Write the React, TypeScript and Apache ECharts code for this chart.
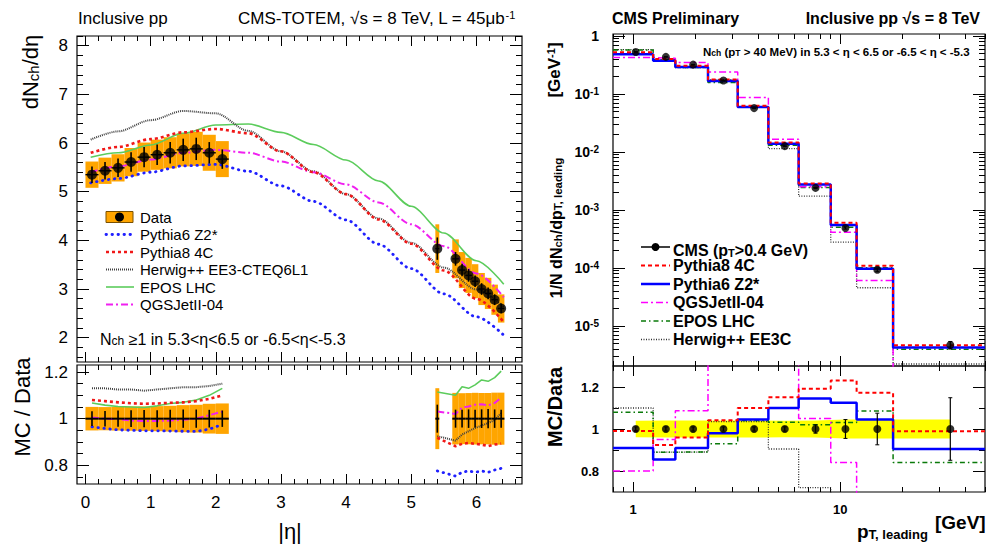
import React, { useEffect, useRef } from 'react';
import * as echarts from 'echarts';

const FONT = '"Liberation Sans", Arial, Helvetica, sans-serif';

// ---- dN_ch/d|eta| : central (|eta| < 2.2) and forward (5.3 < |eta| < 6.5) points ----
const etaPoints = [0.1, 0.3, 0.5, 0.7, 0.9, 1.1, 1.3, 1.5, 1.7, 1.9, 2.1, 5.4, 5.68, 5.78, 5.88, 5.98, 6.08, 6.18, 6.28, 6.38];
const etaBinLow = [0.0, 0.2, 0.4, 0.6, 0.8, 1.0, 1.2, 1.4, 1.6, 1.8, 2.0, 5.37, 5.63, 5.73, 5.83, 5.93, 6.03, 6.13, 6.23, 6.33];
const etaBinHigh = [0.2, 0.4, 0.6, 0.8, 1.0, 1.2, 1.4, 1.6, 1.8, 2.0, 2.2, 5.43, 5.73, 5.83, 5.93, 6.03, 6.13, 6.23, 6.33, 6.43];
const dNdEta = [5.35, 5.43, 5.49, 5.61, 5.71, 5.76, 5.8, 5.86, 5.88, 5.8, 5.67, 3.83, 3.62, 3.39, 3.28, 3.16, 3.0, 2.91, 2.78, 2.6];
const dNdEtaStat = [0.17, 0.18, 0.19, 0.2, 0.21, 0.21, 0.22, 0.23, 0.23, 0.22, 0.2, 0.23, 0.14, 0.13, 0.13, 0.12, 0.12, 0.12, 0.11, 0.1];
const dNdEtaSyst = [0.27, 0.27, 0.28, 0.29, 0.3, 0.31, 0.32, 0.34, 0.35, 0.37, 0.37, 0.5, 0.4, 0.37, 0.36, 0.35, 0.33, 0.32, 0.31, 0.29];
const N_CENTRAL = 11;

// generator predictions for dN_ch/d|eta|
const etaModel = [0.08, 0.5, 1.0, 1.5, 2.0, 2.5, 3.0, 3.5, 4.0, 4.5, 5.0, 5.5, 6.0, 6.42];
const etaPythia6 = [5.18, 5.27, 5.4, 5.53, 5.56, 5.42, 5.12, 4.8, 4.42, 3.92, 3.42, 2.9, 2.43, 2.05];
const etaPythia8 = [5.8, 5.92, 6.08, 6.22, 6.29, 6.2, 5.83, 5.4, 4.95, 4.43, 3.93, 3.38, 2.8, 2.32];
const etaHerwig = [6.07, 6.24, 6.47, 6.66, 6.61, 6.25, 5.83, 5.42, 4.95, 4.45, 3.95, 3.44, 2.99, 2.63];
const etaEpos = [5.71, 5.8, 5.96, 6.2, 6.37, 6.39, 6.22, 5.97, 5.65, 5.22, 4.7, 4.15, 3.58, 3.1];
const etaQgsjet = [5.4, 5.52, 5.66, 5.8, 5.86, 5.8, 5.62, 5.4, 5.15, 4.78, 4.33, 3.88, 3.32, 2.83];

// MC / Data at the measured |eta| points
const ratioPythia6 = [0.965, 0.958, 0.952, 0.95, 0.948, 0.948, 0.947, 0.946, 0.945, 0.955, 0.975, 0.776, 0.754, 0.77, 0.776, 0.77, 0.776, 0.77, 0.78, 0.787];
const ratioPythia8 = [1.08, 1.075, 1.07, 1.066, 1.064, 1.065, 1.068, 1.07, 1.075, 1.085, 1.1, 0.918, 0.882, 0.892, 0.896, 0.892, 0.889, 0.882, 0.889, 0.893];
const ratioHerwig = [1.13, 1.13, 1.125, 1.125, 1.12, 1.125, 1.13, 1.135, 1.135, 1.14, 1.15, 0.925, 0.906, 0.932, 0.946, 0.96, 0.97, 0.982, 0.993, 1.024];
const ratioEpos = [1.067, 1.058, 1.052, 1.05, 1.048, 1.055, 1.065, 1.07, 1.08, 1.1, 1.13, 1.114, 1.1, 1.137, 1.13, 1.145, 1.166, 1.16, 1.176, 1.204];
const ratioQgsjet = [1.005, 1.0, 0.998, 0.992, 0.99, 0.99, 0.992, 0.995, 1.0, 1.015, 1.03, 1.031, 1.02, 1.048, 1.052, 1.06, 1.062, 1.057, 1.067, 1.09];

// ---- leading-pT spectrum ----
const ptEdges = [0.8, 1.25, 1.6, 2.3, 3.2, 4.5, 6.3, 9, 12, 18, 50];
const ptPoints = [1.03, 1.44, 1.95, 2.73, 3.84, 5.4, 7.6, 10.6, 15.1, 34];
const ptData = [0.53, 0.435, 0.32, 0.17, 0.057, 0.0126, 0.0024, 4.9e-4, 9.3e-5, 4.7e-6];
const ptStat = [0.0053, 0.0044, 0.0032, 0.0017, 0.00057, 0.00013, 0.000048, 0.000022, 0.000007, 0.0000007];
const ptSyst = [0.021, 0.0174, 0.0128, 0.0068, 0.00228, 0.0005, 0.000096, 0.000022, 0.0000042, 0.00000021];
const ptPythia8 = [0.525, 0.402, 0.307, 0.177, 0.0627, 0.0145, 0.00286, 6.03e-4, 1.09e-4, 4.65e-6];
const ptPythia6 = [0.482, 0.372, 0.291, 0.1666, 0.0596, 0.01386, 0.00275, 5.51e-4, 9.72e-5, 4.25e-6];
const ptQgsjet = [0.424, 0.413, 0.348, 0.238, 0.0872, 0.0166, 0.00252, 4.12e-4, 6.05e-5, 1.41e-6];
const ptEpos = [0.572, 0.387, 0.285, 0.158, 0.0593, 0.013, 0.00245, 5.05e-4, 1.01e-4, 3.95e-6];
const ptHerwig = [0.583, 0.387, 0.285, 0.176, 0.059, 0.0114, 0.00173, 2.79e-4, 4.56e-5, 2.21e-6];

// ---------- styles ----------
const L = {
  p6: { color: '#2020ff', width: 2.8, type: [0.5, 5.5], cap: 'round' },
  p8: { color: '#f01818', width: 2.6, type: [3, 3] },
  hw: { color: '#404040', width: 2, type: [1, 1] },
  ep: { color: '#5ccc5c', width: 1.6, type: 'solid' },
  qg: { color: '#f020f0', width: 2, type: [7, 3, 2, 3] },
};
const R = {
  p8: { color: '#ff0000', width: 2, type: [4, 3] },
  p6: { color: '#0000ff', width: 2.5, type: 'solid' },
  qg: { color: '#ff00ff', width: 1.5, type: [7, 3, 2, 3] },
  ep: { color: '#0a7a0a', width: 1.5, type: [5, 3, 1.5, 3] },
  hw: { color: '#303030', width: 1.3, type: [1, 1.5] },
};
const ORANGE = '#ffa500';

function steps(a: number, b: number, d: number) {
  const out: number[] = [];
  for (let v = a; v <= b + 1e-9; v += d) out.push(Math.round(v * 10000) / 10000);
  return out;
}
const notOn = (grid: number[]) => (v: number) => !grid.some((g) => Math.abs(g - v) < 1e-6);

function frameAxes(o: any) {
  const sides = o.dim === 'x' ? ['bottom', 'top'] : ['left', 'right'];
  const make = (position: string, ticks: number[], len: number, label?: any) => ({
    gridIndex: o.grid,
    type: o.type,
    min: o.min,
    max: o.max,
    position,
    ...(o.type === 'log' ? { logBase: 10 } : {}),
    axisLine: { show: false, onZero: false },
    splitLine: { show: false },
    axisTick: { show: true, inside: true, length: len, customValues: ticks, lineStyle: { color: '#000', width: 1 } },
    axisLabel: label ? { ...label, customValues: o.majors } : { show: false },
  });
  return [
    make(sides[0], o.majors, o.majorLen, o.label),
    make(sides[0], o.minors, o.minorLen),
    make(sides[1], o.majors, o.majorLen),
    make(sides[1], o.minors, o.minorLen),
  ];
}

function boxSeries(ax: number, data: number[][], color: string) {
  return {
    type: 'custom', xAxisIndex: ax, yAxisIndex: ax, data, clip: true, z: 1, silent: true,
    renderItem: (_p: any, api: any) => {
      const a = api.coord([api.value(0), api.value(3)]);
      const b = api.coord([api.value(1), api.value(2)]);
      return { type: 'rect', shape: { x: a[0], y: a[1], width: b[0] - a[0], height: b[1] - a[1] }, style: { fill: color } };
    },
  };
}

// closed band between a lower and an upper edge, drawn once from all points
function bandSeries(ax: number, xs: number[], lower: number[], upper: number[], color: string) {
  return {
    type: 'custom', xAxisIndex: ax, yAxisIndex: ax, clip: true, z: 1, silent: true,
    data: xs.map((x, i) => [x, lower[i], upper[i]]),
    renderItem: (params: any, api: any) => {
      if (params.dataIndex !== 0) return null;
      const top = xs.map((x, i) => api.coord([x, upper[i]]));
      const bot = xs.map((x, i) => api.coord([x, lower[i]])).reverse();
      return { type: 'polygon', shape: { points: [...top, ...bot] }, style: { fill: color } };
    },
  };
}

function errorSeries(ax: number, data: number[][], width: number, hWidth: number, cap: number) {
  return {
    type: 'custom', xAxisIndex: ax, yAxisIndex: ax, data, clip: true, z: 5, silent: true,
    renderItem: (_p: any, api: any) => {
      const x = api.value(0), y = api.value(1), e = api.value(2);
      const t = api.coord([x, y + e]);
      const b = api.coord([x, y - e]);
      const ch: any[] = [{ type: 'line', shape: { x1: t[0], y1: t[1], x2: b[0], y2: b[1] }, style: { stroke: '#000', lineWidth: width } }];
      if (cap > 0) {
        ch.push({ type: 'line', shape: { x1: t[0] - cap, y1: t[1], x2: t[0] + cap, y2: t[1] }, style: { stroke: '#000', lineWidth: 1 } });
        ch.push({ type: 'line', shape: { x1: b[0] - cap, y1: b[1], x2: b[0] + cap, y2: b[1] }, style: { stroke: '#000', lineWidth: 1 } });
      }
      const lo = api.value(3), hi = api.value(4);
      if (!isNaN(lo) && !isNaN(hi)) {
        const l = api.coord([lo, y]);
        const h = api.coord([hi, y]);
        ch.push({ type: 'line', shape: { x1: l[0], y1: l[1], x2: h[0], y2: h[1] }, style: { stroke: '#000', lineWidth: hWidth } });
      }
      return { type: 'group', children: ch };
    },
  };
}

function curve(ax: number, name: string, data: any[], ls: any, smooth: boolean, z = 3) {
  return {
    type: 'line', name, xAxisIndex: ax, yAxisIndex: ax, data, smooth: smooth ? 0.3 : false,
    smoothMonotone: 'x', symbol: 'none', showSymbol: false, silent: true, z, clip: true,
    lineStyle: { color: ls.color, width: ls.width, type: ls.type, cap: ls.cap || 'butt' },
  };
}

const stepData = (vals: number[]) => ptEdges.map((e, i) => [e, vals[Math.min(i, vals.length - 1)]]);
function stepLine(ax: number, name: string, vals: number[], ls: any) {
  return { ...curve(ax, name, stepData(vals), ls, false), step: 'end' };
}

const etaRatioData = (r: number[]) => [
  ...etaPoints.slice(0, N_CENTRAL).map((e, i) => [e, r[i]]),
  [3.7, '-'],
  ...etaPoints.slice(N_CENTRAL).map((e, i) => [e, r[i + N_CENTRAL]]),
];

function txt(x: number, y: number, text: string, style: any, extra: any = {}) {
  return { type: 'text', x, y, silent: true, ...extra, style: { text, fontFamily: FONT, fill: '#000', ...style } };
}
function seg(x1: number, x2: number, y: number, ls: any) {
  return {
    type: 'line', silent: true, shape: { x1, y1: y, x2, y2: y },
    style: { stroke: ls.color, lineWidth: ls.width, lineDash: Array.isArray(ls.type) ? ls.type : null, lineCap: ls.cap || 'butt' },
  };
}

function subRich(size: number, sub: number, drop: number, bold = false) {
  const w = bold ? 'bold' : 'normal';
  return {
    a: { fontSize: size, fontFamily: FONT, fontWeight: w, fill: '#000', verticalAlign: 'top', lineHeight: size },
    s: { fontSize: sub, fontFamily: FONT, fontWeight: w, fill: '#000', verticalAlign: 'bottom', lineHeight: sub, padding: [drop, 0, 0, 0] },
  };
}
function supRich(size: number, sup: number, lift: number, bold = false) {
  const w = bold ? 'bold' : 'normal';
  return {
    a: { fontSize: size, fontFamily: FONT, fontWeight: w, fill: '#000', verticalAlign: 'bottom', lineHeight: size, padding: [lift, 0, 0, 0] },
    p: { fontSize: sup, fontFamily: FONT, fontWeight: w, fill: '#000', verticalAlign: 'top', lineHeight: sup },
  };
}

function buildOption() {
  // grids: 0 left main, 1 left ratio, 2 right main, 3 right ratio
  const grid = [
    { left: 77, top: 36, width: 445, height: 326 },
    { left: 77, top: 365, width: 445, height: 119 },
    { left: 613, top: 34, width: 372, height: 332 },
    { left: 613, top: 366, width: 372, height: 126 },
  ].map((g) => ({ ...g, show: true, borderColor: '#000', borderWidth: 1.2, backgroundColor: 'transparent' }));

  const etaMajors = [0, 1, 2, 3, 4, 5, 6];
  const etaMinors = steps(0, 6.6, 0.2).filter(notOn(etaMajors));
  const leftLabel = { show: true, fontSize: 17, fontFamily: FONT, color: '#000' };
  const rightLabel = { show: true, fontSize: 13, fontWeight: 'bold', fontFamily: FONT, color: '#000' };

  const ptMajors = [1, 10];
  const ptMinors = [0.8, 0.9, 2, 3, 4, 5, 6, 7, 8, 9, 20, 30, 40, 50];
  const decades = [1e-5, 1e-4, 1e-3, 1e-2, 1e-1, 1];
  const decadeMinors: number[] = [];
  [1e-6, 1e-5, 1e-4, 1e-3, 1e-2, 1e-1].forEach((d) => {
    for (let k = 2; k <= 9; k++) {
      const v = k * d;
      if (v >= 2.1e-6 && v <= 1.08) decadeMinors.push(v);
    }
  });

  const xAxis = [
    ...frameAxes({ grid: 0, dim: 'x', type: 'value', min: -0.13, max: 6.7, majors: etaMajors, minors: etaMinors, majorLen: 10, minorLen: 5 }),
    ...frameAxes({ grid: 1, dim: 'x', type: 'value', min: -0.13, max: 6.7, majors: etaMajors, minors: etaMinors, majorLen: 10, minorLen: 5, label: { ...leftLabel, margin: 10 } }),
    ...frameAxes({ grid: 2, dim: 'x', type: 'log', min: 0.8, max: 50, majors: ptMajors, minors: ptMinors, majorLen: 10, minorLen: 5 }),
    ...frameAxes({ grid: 3, dim: 'x', type: 'log', min: 0.8, max: 50, majors: ptMajors, minors: ptMinors, majorLen: 10, minorLen: 5, label: { ...rightLabel, margin: 11 } }),
  ];
  const yAxis = [
    ...frameAxes({ grid: 0, dim: 'y', type: 'value', min: 1.5, max: 8.2, majors: [2, 3, 4, 5, 6, 7, 8], minors: steps(1.6, 8.2, 0.2).filter(notOn([2, 3, 4, 5, 6, 7, 8])), majorLen: 12, minorLen: 6, label: { ...leftLabel, margin: 9 } }),
    ...frameAxes({ grid: 1, dim: 'y', type: 'value', min: 0.72, max: 1.23, majors: [0.8, 1, 1.2], minors: [0.75, 0.85, 0.9, 0.95, 1.05, 1.1, 1.15], majorLen: 12, minorLen: 6, label: { ...leftLabel, margin: 9 } }),
    ...frameAxes({
      grid: 2, dim: 'y', type: 'log', min: 2.04e-6, max: 1.08, majors: decades, minors: decadeMinors, majorLen: 12, minorLen: 6,
      label: {
        show: true, margin: 14, color: '#000',
        formatter: (v: number) => {
          const p = Math.round(Math.log10(v));
          return p === 0 ? '{b|1}' : `{b|10}{s|${p}}`;
        },
        rich: {
          b: { fontSize: 14, fontWeight: 'bold', fontFamily: FONT, color: '#000', verticalAlign: 'bottom', lineHeight: 14, padding: [5, 0, 0, 0] },
          s: { fontSize: 10, fontWeight: 'bold', fontFamily: FONT, color: '#000', verticalAlign: 'top', lineHeight: 10 },
        },
      },
    }),
    ...frameAxes({ grid: 3, dim: 'y', type: 'value', min: 0.7, max: 1.3, majors: [0.8, 1, 1.2], minors: [0.9, 1.1], majorLen: 12, minorLen: 6, label: { ...rightLabel, margin: 14 } }),
  ];

  const AX0 = 0, AX1 = 4, AX2 = 8, AX3 = 12;
  const idx = etaPoints.map((_, i) => i);

  const series: any[] = [
    // left main
    boxSeries(AX0, idx.map((i) => [etaBinLow[i], etaBinHigh[i], dNdEta[i] - dNdEtaSyst[i], dNdEta[i] + dNdEtaSyst[i]]), ORANGE),
    curve(AX0, 'EPOS LHC', etaModel.map((e, i) => [e, etaEpos[i]]), L.ep, true),
    curve(AX0, 'Herwig++ EE3-CTEQ6L1', etaModel.map((e, i) => [e, etaHerwig[i]]), L.hw, true),
    curve(AX0, 'QGSJetII-04', etaModel.map((e, i) => [e, etaQgsjet[i]]), L.qg, true),
    curve(AX0, 'Pythia8 4C', etaModel.map((e, i) => [e, etaPythia8[i]]), L.p8, true),
    curve(AX0, 'Pythia6 Z2*', etaModel.map((e, i) => [e, etaPythia6[i]]), L.p6, true),
    errorSeries(AX0, idx.map((i) => [etaPoints[i], dNdEta[i], dNdEtaStat[i], etaBinLow[i], etaBinHigh[i]]), 1.6, 1.4, 0),
    {
      type: 'scatter', name: 'Data', xAxisIndex: AX0, yAxisIndex: AX0, symbol: 'circle', symbolSize: 10, z: 6, silent: true,
      itemStyle: { color: '#000' }, data: idx.map((i) => [etaPoints[i], dNdEta[i]]),
    },
    // left ratio
    boxSeries(AX1, idx.map((i) => [etaBinLow[i], etaBinHigh[i], 1 - dNdEtaSyst[i] / dNdEta[i], 1 + dNdEtaSyst[i] / dNdEta[i]]), ORANGE),
    errorSeries(AX1, idx.map((i) => [etaPoints[i], 1, dNdEtaStat[i] / dNdEta[i], etaBinLow[i], etaBinHigh[i]]), 1.6, 2, 0),
    curve(AX1, 'EPOS LHC', etaRatioData(ratioEpos), L.ep, false),
    curve(AX1, 'Herwig++ EE3-CTEQ6L1', etaRatioData(ratioHerwig), L.hw, false),
    curve(AX1, 'QGSJetII-04', etaRatioData(ratioQgsjet), L.qg, false),
    curve(AX1, 'Pythia8 4C', etaRatioData(ratioPythia8), L.p8, false),
    curve(AX1, 'Pythia6 Z2*', etaRatioData(ratioPythia6), L.p6, false),
    // right main
    stepLine(AX2, 'Herwig++ EE3C', ptHerwig, R.hw),
    stepLine(AX2, 'EPOS LHC', ptEpos, R.ep),
    stepLine(AX2, 'QGSJetII-04', ptQgsjet, R.qg),
    stepLine(AX2, 'Pythia6 Z2*', ptPythia6, R.p6),
    stepLine(AX2, 'Pythia8 4C', ptPythia8, R.p8),
    errorSeries(AX2, ptPoints.map((p, i) => [p, ptData[i], ptStat[i]]), 1.2, 0, 2),
    {
      type: 'scatter', name: 'CMS', xAxisIndex: AX2, yAxisIndex: AX2, symbol: 'circle', symbolSize: 8, z: 6, silent: true,
      itemStyle: { color: '#000' }, data: ptPoints.map((p, i) => [p, ptData[i]]),
    },
    // right ratio: systematic band around 1
    bandSeries(AX3, ptPoints, ptSyst.map((s, i) => 1 - s / ptData[i]), ptSyst.map((s, i) => 1 + s / ptData[i]), '#ffff00'),
    stepLine(AX3, 'Herwig++ EE3C', ptHerwig.map((v, i) => v / ptData[i]), R.hw),
    stepLine(AX3, 'EPOS LHC', ptEpos.map((v, i) => v / ptData[i]), R.ep),
    stepLine(AX3, 'QGSJetII-04', ptQgsjet.map((v, i) => v / ptData[i]), R.qg),
    stepLine(AX3, 'Pythia6 Z2*', ptPythia6.map((v, i) => v / ptData[i]), R.p6),
    stepLine(AX3, 'Pythia8 4C', ptPythia8.map((v, i) => v / ptData[i]), R.p8),
    errorSeries(AX3, ptPoints.map((p, i) => [p, 1, ptStat[i] / ptData[i]]), 1.2, 0, 2),
    {
      type: 'scatter', xAxisIndex: AX3, yAxisIndex: AX3, symbol: 'circle', symbolSize: 8, z: 6, silent: true,
      itemStyle: { color: '#000' }, data: ptPoints.map((p) => [p, 1]),
    },
  ];

  const leftRows = [217, 234.5, 252, 269.5, 287, 304.5];
  const rightRows = [247, 265.5, 284, 302.5, 321, 339.5];
  const lg = { fontSize: 15, verticalAlign: 'middle', align: 'left' };
  const rg = { fontSize: 16, fontWeight: 'bold', verticalAlign: 'middle', align: 'left' };

  const graphic: any[] = [
    // left panel texts
    txt(78, 18, 'Inclusive pp', { fontSize: 17, verticalAlign: 'middle' }),
    txt(238, 18, '{a|CMS-TOTEM, √s = 8 TeV, L = 45μb}{p|-1}', { rich: supRich(17, 11, 6), verticalAlign: 'middle' }),
    txt(30, 72, '{a|dN}{s|ch}{a|/dη}', { rich: subRich(22, 15, 12), align: 'center', verticalAlign: 'middle' }, { rotation: Math.PI / 2 }),
    txt(22, 407, 'MC / Data', { fontSize: 22, align: 'center', verticalAlign: 'middle' }, { rotation: Math.PI / 2 }),
    txt(290, 531, '|η|', { fontSize: 22, align: 'center', verticalAlign: 'middle' }),
    txt(100, 339, '{a|N}{s|ch}{a| ≥1 in 5.3<η<6.5 or -6.5<η<-5.3}', { rich: subRich(16, 12, 9), verticalAlign: 'middle' }),
    // left legend
    { type: 'rect', silent: true, shape: { x: 106, y: 211.5, width: 27, height: 11 }, style: { fill: ORANGE, stroke: '#7a5000', lineWidth: 1 } },
    { type: 'circle', silent: true, shape: { cx: 119.5, cy: 217, r: 4.5 }, style: { fill: '#000' } },
    txt(140, leftRows[0], 'Data', lg),
    seg(106, 134, leftRows[1], L.p6),
    txt(140, leftRows[1], 'Pythia6 Z2*', lg),
    seg(106, 134, leftRows[2], L.p8),
    txt(140, leftRows[2], 'Pythia8 4C', lg),
    seg(106, 134, leftRows[3], L.hw),
    txt(140, leftRows[3], 'Herwig++ EE3-CTEQ6L1', lg),
    seg(106, 134, leftRows[4], L.ep),
    txt(140, leftRows[4], 'EPOS LHC', lg),
    seg(106, 134, leftRows[5], L.qg),
    txt(140, leftRows[5], 'QGSJetII-04', lg),

    // right panel texts
    txt(612, 18, 'CMS Preliminary', { fontSize: 16, fontWeight: 'bold', verticalAlign: 'middle' }),
    txt(980, 18, 'Inclusive pp √s = 8 TeV', { fontSize: 16, fontWeight: 'bold', verticalAlign: 'middle', align: 'right' }),
    txt(703, 52, '{a|N}{s|ch}{a| (p}{s|T}{a| > 40 MeV) in 5.3 < η < 6.5 or -6.5 < η < -5.3}', { rich: subRich(11.5, 8.5, 5, true), verticalAlign: 'middle' }),
    txt(556, 228, '{a|1/N dN}{s|ch}{a|/dp}{s|T, leading}', { rich: subRich(16, 11.5, 9, true), align: 'center', verticalAlign: 'middle' }, { rotation: Math.PI / 2 }),
    txt(554, 70, '{a|[GeV}{p|-1}{a|]}', { rich: supRich(17, 11, 6, true), align: 'center', verticalAlign: 'middle' }, { rotation: Math.PI / 2 }),
    txt(555, 407, 'MC/Data', { fontSize: 20, fontWeight: 'bold', align: 'center', verticalAlign: 'middle' }, { rotation: Math.PI / 2 }),
    txt(857, 531, '{a|p}{s|T, leading}', { rich: subRich(19, 13, 11, true), verticalAlign: 'middle' }),
    txt(935, 522, '[GeV]', { fontSize: 19, fontWeight: 'bold', verticalAlign: 'middle' }),
    // right legend
    seg(641, 670, rightRows[0], { color: '#000', width: 1.5, type: 'solid' }),
    { type: 'circle', silent: true, shape: { cx: 655.5, cy: rightRows[0], r: 4 }, style: { fill: '#000' } },
    txt(673, rightRows[0] + 3, '{a|CMS (p}{s|T}{a|>0.4 GeV)}', { rich: subRich(16, 11, 8, true), verticalAlign: 'middle' }),
    seg(641, 670, rightRows[1], R.p8),
    txt(673, rightRows[1], 'Pythia8 4C', rg),
    seg(641, 670, rightRows[2], R.p6),
    txt(673, rightRows[2], 'Pythia6 Z2*', rg),
    seg(641, 670, rightRows[3], R.qg),
    txt(673, rightRows[3], 'QGSJetII-04', rg),
    seg(641, 670, rightRows[4], R.ep),
    txt(673, rightRows[4], 'EPOS LHC', rg),
    seg(641, 670, rightRows[5], R.hw),
    txt(673, rightRows[5], 'Herwig++ EE3C', rg),
  ];

  return { animation: false, backgroundColor: '#fff', grid, xAxis, yAxis, series, graphic };
}

export default function App() {
  const ref = useRef<HTMLDivElement>(null);
  useEffect(() => {
    const chart = echarts.init(ref.current as HTMLDivElement, null, { renderer: 'svg' });
    chart.setOption(buildOption() as any);
    return () => chart.dispose();
  }, []);
  return <div ref={ref} style={{ position: 'fixed', left: 0, top: 0, width: 986, height: 546, background: '#fff' }} />;
}
